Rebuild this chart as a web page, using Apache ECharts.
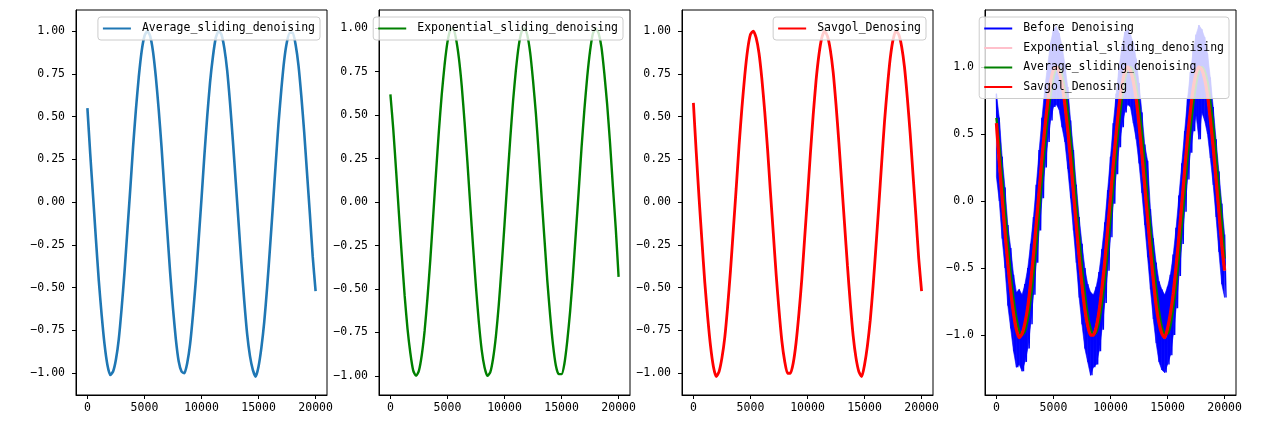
<!DOCTYPE html>
<html>
<head>
<meta charset="utf-8">
<script src="https://cdn.jsdelivr.net/npm/echarts@6/dist/echarts.min.js"></script>
<style>
html,body{margin:0;padding:0;background:#fff;}
#chart{width:1274px;height:426px;}
</style>
</head>
<body>
<div id="chart"></div>
<script>
const SAMPLE_STEP = 250;

const avgValues = [0.55,0.28,0.03,-0.22,-0.46,-0.66,-0.83,-0.95,-1.01,-0.99,-0.92,-0.80,-0.62,-0.41,-0.17,0.07,0.32,0.54,0.73,0.88,0.97,1.00,0.97,0.88,0.73,0.54,0.32,0.07,-0.17,-0.41,-0.62,-0.80,-0.93,-0.99,-1.00,-0.94,-0.83,-0.66,-0.46,-0.22,0.02,0.27,0.50,0.70,0.85,0.96,1.00,0.98,0.90,0.77,0.58,0.36,0.12,-0.12,-0.36,-0.58,-0.77,-0.90,-0.98,-1.02,-0.96,-0.85,-0.70,-0.50,-0.27,-0.03,0.22,0.46,0.66,0.83,0.94,0.99,0.99,0.92,0.80,0.62,0.41,0.17,-0.07,-0.32,-0.52];

const expValues = [0.62,0.42,0.18,-0.07,-0.31,-0.54,-0.73,-0.87,-0.97,-1.00,-0.97,-0.88,-0.74,-0.55,-0.33,-0.08,0.17,0.41,0.62,0.79,0.92,0.99,1.00,0.94,0.83,0.67,0.46,0.23,-0.02,-0.26,-0.49,-0.69,-0.85,-0.95,-1.00,-0.98,-0.90,-0.77,-0.59,-0.37,-0.13,0.12,0.36,0.58,0.76,0.90,0.98,1.00,0.96,0.86,0.70,0.51,0.28,0.03,-0.21,-0.45,-0.65,-0.82,-0.94,-0.99,-0.99,-0.93,-0.80,-0.63,-0.42,-0.18,0.06,0.31,0.53,0.72,0.87,0.97,1.00,0.97,0.89,0.74,0.56,0.34,0.09,-0.15,-0.43];

const savgolValues = [0.58,0.29,0.02,-0.23,-0.47,-0.67,-0.84,-0.96,-1.02,-0.99,-0.91,-0.79,-0.61,-0.40,-0.16,0.08,0.33,0.55,0.74,0.89,0.98,1.00,0.96,0.87,0.72,0.53,0.31,0.06,-0.18,-0.42,-0.63,-0.81,-0.93,-1.00,-1.00,-0.94,-0.82,-0.65,-0.45,-0.21,0.03,0.28,0.51,0.71,0.86,0.96,1.00,0.97,0.89,0.76,0.57,0.35,0.11,-0.13,-0.37,-0.59,-0.78,-0.91,-0.99,-1.02,-0.95,-0.84,-0.69,-0.49,-0.26,-0.02,0.23,0.47,0.67,0.84,0.95,1.00,0.98,0.91,0.79,0.61,0.40,0.16,-0.08,-0.33,-0.52];

// raw (before denoising) signal: upper and lower excursions of the noise
const rawUpper = [0.80,0.62,0.33,0.10,-0.18,-0.35,-0.55,-0.68,-0.66,-0.70,-0.62,-0.50,-0.32,-0.12,0.12,0.38,0.62,0.85,1.02,1.18,1.28,1.30,1.25,1.16,1.02,0.85,0.60,0.38,0.12,-0.12,-0.32,-0.50,-0.62,-0.68,-0.70,-0.64,-0.53,-0.36,-0.16,0.08,0.33,0.58,0.80,1.00,1.15,1.26,1.28,1.24,1.18,1.06,0.88,0.66,0.42,0.30,-0.06,-0.28,-0.46,-0.60,-0.66,-0.70,-0.64,-0.55,-0.40,-0.20,0.04,0.28,0.52,0.76,0.96,1.12,1.24,1.31,1.28,1.22,1.10,0.92,0.70,0.46,0.22,-0.02,-0.25];
const rawLower = [0.18,0.00,-0.28,-0.50,-0.78,-0.95,-1.12,-1.24,-1.22,-1.27,-1.20,-1.10,-0.92,-0.70,-0.46,-0.22,0.02,0.25,0.44,0.60,0.70,0.72,0.68,0.55,0.44,0.24,0.02,-0.22,-0.46,-0.72,-0.92,-1.10,-1.20,-1.30,-1.24,-1.22,-1.12,-0.96,-0.76,-0.52,-0.27,-0.02,0.20,0.40,0.55,0.66,0.72,0.70,0.58,0.46,0.28,0.06,-0.18,-0.42,-0.66,-0.88,-1.06,-1.20,-1.26,-1.28,-1.22,-1.15,-1.00,-0.80,-0.56,-0.32,-0.08,0.16,0.36,0.52,0.64,0.46,0.66,0.60,0.50,0.32,0.12,-0.12,-0.38,-0.62,-0.72];

const xTickValues = [0, 5000, 10000, 15000, 20000];
const yTickValuesFine = [-1.00, -0.75, -0.50, -0.25, 0.00, 0.25, 0.50, 0.75, 1.00];
const yTickValuesCoarse = [-1.0, -0.5, 0.0, 0.5, 1.0];

const seriesNames = ['Average_sliding_denoising', 'Exponential_sliding_denoising', 'Savgol_Denosing', 'Before Denoising'];

// ---- build ----
const FONT = "'DejaVu Sans Mono', monospace";
const toPairs = vals => vals.map((v, i) => [i * SAMPLE_STEP, v]);
const rawPairs = [];
rawUpper.forEach((u, i) => { rawPairs.push([i * SAMPLE_STEP, u]); rawPairs.push([i * SAMPLE_STEP + SAMPLE_STEP / 2, rawLower[i]]); });
// quads of the raw-signal noise band: [x0, upper0, lower0, x1, upper1, lower1]
const rawBand = [];
for (let i = 0; i < rawUpper.length - 1; i++) {
  rawBand.push([i * SAMPLE_STEP, rawUpper[i], rawLower[i], (i + 1) * SAMPLE_STEP, rawUpper[i + 1], rawLower[i + 1]]);
}

const gridLefts = [76, 379, 682, 985];
const gridW = 251;
const gridTop = 10, gridH = 385;
const yRanges = [[-1.127, 1.123], [-1.11, 1.105], [-1.127, 1.123], [-1.447, 1.424]];

const fmtMinus = d => (v => (v < 0 ? '\u2212' : '') + Math.abs(v).toFixed(d));

const grids = gridLefts.map(l => ({left: l, top: gridTop, width: gridW, height: gridH, show: true, borderColor: '#000', borderWidth: 1, backgroundColor: 'transparent', containLabel: false}));

const xAxes = gridLefts.map((l, i) => ({
  type: 'value', gridIndex: i, min: -1000, max: 21000,
  splitLine: {show: false},
  axisLine: {show: true, onZero: false, lineStyle: {color: '#000', width: 1}},
  axisTick: {show: true, length: 4, customValues: xTickValues, lineStyle: {color: '#000', width: 1}},
  axisLabel: {customValues: xTickValues, margin: 7, color: '#000', fontFamily: FONT, fontSize: 11.5, formatter: v => String(Math.round(v))}
}));

const yAxes = gridLefts.map((l, i) => {
  const ticks = i === 3 ? yTickValuesCoarse : yTickValuesFine;
  return {
    type: 'value', gridIndex: i, min: yRanges[i][0], max: yRanges[i][1],
    splitLine: {show: false},
    axisLine: {show: true, onZero: false, lineStyle: {color: '#000', width: 1}},
    axisTick: {show: true, length: 4, customValues: ticks, lineStyle: {color: '#000', width: 1}},
    axisLabel: {customValues: ticks, margin: 11, color: '#000', fontFamily: FONT, fontSize: 11.5, formatter: fmtMinus(i === 3 ? 1 : 2)}
  };
});

function lineSeries(name, data, color, width, idx, extra) {
  return Object.assign({type: 'line', name, data, xAxisIndex: idx, yAxisIndex: idx, showSymbol: false, symbol: 'none',
    smooth: 0.2, lineStyle: {color, width}, itemStyle: {color}, animation: false, emphasis: {disabled: true}}, extra || {});
}

const series = [
  lineSeries(seriesNames[0], toPairs(avgValues), '#1f77b4', 2.6, 0),
  lineSeries(seriesNames[1], toPairs(expValues), '#008000', 2.4, 1),
  lineSeries(seriesNames[2], toPairs(savgolValues), '#ff0000', 2.8, 2),
  // raw signal: filled noise band plus zig-zag trace
  {
    type: 'custom', name: seriesNames[3], xAxisIndex: 3, yAxisIndex: 3, data: rawBand, animation: false, silent: true,
    encode: {x: [0, 3], y: [1, 2, 4, 5]},
    renderItem: function (params, api) {
      const p0u = api.coord([api.value(0), api.value(1)]);
      const p0l = api.coord([api.value(0), api.value(2)]);
      const p1u = api.coord([api.value(3), api.value(4)]);
      const p1l = api.coord([api.value(3), api.value(5)]);
      return {type: 'polygon', shape: {points: [p0u, p1u, p1l, p0l]},
        style: {fill: '#0000ff', stroke: '#0000ff', lineWidth: 0.6}};
    }
  },
  lineSeries(seriesNames[3], rawPairs, '#0000ff', 1.4, 3, {smooth: false}),
  lineSeries(seriesNames[1], toPairs(avgValues), '#ffc0cb', 2.2, 3),
  lineSeries(seriesNames[0], toPairs(expValues), '#008000', 2.4, 3),
  lineSeries(seriesNames[2], toPairs(savgolValues), '#ff0000', 3.2, 3)
];

function legend(idx, items) {
  return {
    show: true, orient: 'vertical', right: 1274 - (gridLefts[idx] + gridW - 7), top: 17,
    selectedMode: false, backgroundColor: 'rgba(255,255,255,0.8)', borderColor: '#cccccc', borderWidth: 1, borderRadius: 3,
    padding: [4.5, 5, 4.5, 5], itemGap: 5.5, itemWidth: 28, itemHeight: 2,
    textStyle: {color: '#000', fontFamily: FONT, fontSize: 11.5, lineHeight: 14, padding: [0, 0, 0, 6]},
    data: items.map(([n, c]) => ({name: n, icon: 'rect', itemStyle: {color: c}}))
  };
}

const option = {
  animation: false,
  backgroundColor: '#fff',
  grid: grids,
  xAxis: xAxes,
  yAxis: yAxes,
  legend: [
    legend(0, [[seriesNames[0], '#1f77b4']]),
    legend(1, [[seriesNames[1], '#008000']]),
    legend(2, [[seriesNames[2], '#ff0000']]),
    legend(3, [[seriesNames[3], '#0000ff'], [seriesNames[1], '#ffc0cb'], [seriesNames[0], '#008000'], [seriesNames[2], '#ff0000']])
  ],
  series
};

const chart = echarts.init(document.getElementById('chart'), null, {renderer: 'canvas'});
chart.setOption(option);
</script>
</body>
</html>
